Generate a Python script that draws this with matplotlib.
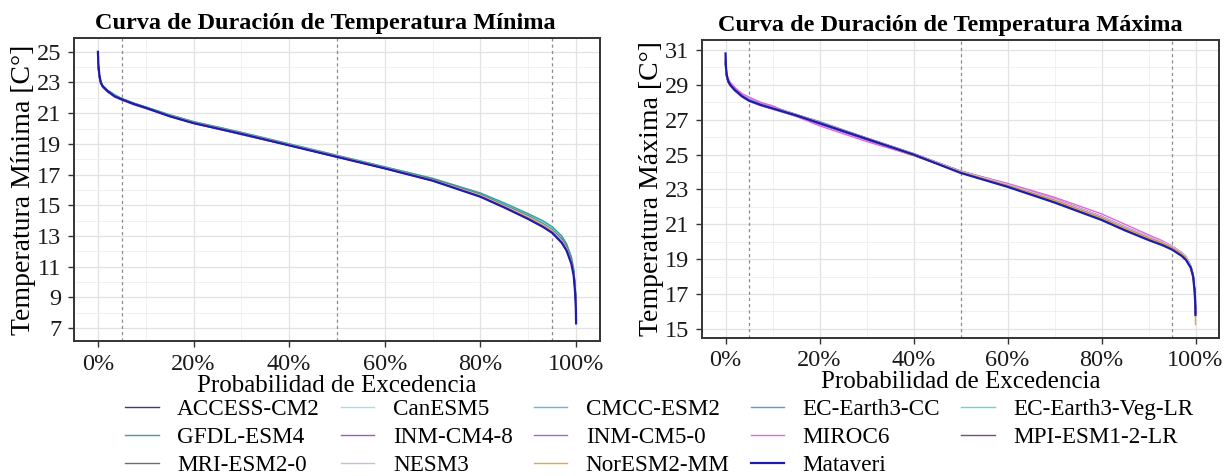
import matplotlib
matplotlib.use("Agg")
import matplotlib.pyplot as plt
from matplotlib.ticker import MultipleLocator, PercentFormatter

plt.rcParams["font.family"] = ["Liberation Serif", "DejaVu Serif"]

# Probabilidad de excedencia (%)
prob = [0, 0.1, 0.3, 0.6, 1, 2, 3.5, 5, 7.5, 10, 15, 20, 30, 40, 50, 60, 70, 80, 85, 90,
        93, 95, 97, 98, 99, 99.5, 99.8, 99.95, 100]

modelos = ["ACCESS-CM2", "CanESM5", "CMCC-ESM2", "EC-Earth3-CC", "EC-Earth3-Veg-LR",
           "GFDL-ESM4", "INM-CM4-8", "INM-CM5-0", "MIROC6", "MPI-ESM1-2-LR",
           "MRI-ESM2-0", "NESM3", "NorESM2-MM", "Mataveri"]

colores = ["#3b3b80", "#a8dde6", "#4fc1d9", "#5a9bd0", "#4fe0dc",
           "#3aa39b", "#9b59d6", "#a565e3", "#e565e0", "#8d3f86",
           "#707070", "#dbb3de", "#e6a93c", "#1c1cae"]

# Temperatura minima
tmin_access = [24.7, 24.0, 23.4, 23.0, 22.75, 22.45, 22.15, 21.95, 21.65, 21.4, 20.85, 20.4, 19.7, 18.95, 18.15, 17.45, 16.65, 15.65, 14.95, 14.25, 13.75, 13.35, 12.75, 12.25, 11.4, 10.6, 9.55, 8.6, 7.6]
tmin_canesm5 = [24.8, 24.1, 23.5, 23.05, 22.8, 22.5, 22.2, 21.95, 21.65, 21.4, 20.85, 20.45, 19.75, 19.0, 18.25, 17.5, 16.7, 15.7, 15.05, 14.35, 13.85, 13.45, 12.85, 12.35, 11.55, 10.75, 9.7, 8.8, 7.9]
tmin_cmcc = [24.6, 24.0, 23.4, 23.0, 22.75, 22.45, 22.15, 21.9, 21.6, 21.4, 20.85, 20.4, 19.7, 18.95, 18.2, 17.45, 16.65, 15.65, 15.0, 14.3, 13.8, 13.4, 12.8, 12.3, 11.45, 10.65, 9.6, 8.7, 7.7]
tmin_eccc = [24.5, 23.9, 23.4, 23.0, 22.7, 22.4, 22.1, 21.9, 21.6, 21.35, 20.8, 20.4, 19.7, 18.95, 18.2, 17.45, 16.7, 15.7, 15.0, 14.3, 13.8, 13.4, 12.75, 12.25, 11.4, 10.6, 9.55, 8.6, 7.6]
tmin_ecveg = [24.7, 24.1, 23.5, 23.05, 22.8, 22.5, 22.2, 21.95, 21.65, 21.4, 20.9, 20.45, 19.75, 19.0, 18.25, 17.5, 16.75, 15.75, 15.1, 14.4, 13.95, 13.55, 12.95, 12.45, 11.6, 10.8, 9.75, 8.8, 7.9]
tmin_gfdl = [24.7, 24.1, 23.5, 23.05, 22.8, 22.5, 22.2, 21.95, 21.65, 21.4, 20.9, 20.45, 19.75, 19.0, 18.25, 17.5, 16.75, 15.8, 15.15, 14.45, 14.0, 13.6, 13.0, 12.5, 11.65, 10.85, 9.8, 8.9, 8.0]
tmin_inm48 = [24.4, 23.9, 23.3, 22.95, 22.7, 22.4, 22.1, 21.9, 21.6, 21.35, 20.8, 20.35, 19.65, 18.9, 18.15, 17.4, 16.6, 15.6, 14.9, 14.2, 13.7, 13.3, 12.65, 12.15, 11.3, 10.5, 9.45, 8.5, 7.5]
tmin_inm50 = [24.5, 23.9, 23.4, 22.95, 22.7, 22.4, 22.05, 21.85, 21.55, 21.3, 20.8, 20.35, 19.6, 18.9, 18.15, 17.4, 16.6, 15.6, 14.9, 14.15, 13.65, 13.25, 12.6, 12.1, 11.25, 10.45, 9.4, 8.45, 7.5]
tmin_miroc6 = [24.6, 24.0, 23.4, 23.0, 22.75, 22.45, 22.1, 21.9, 21.6, 21.35, 20.8, 20.35, 19.65, 18.9, 18.15, 17.4, 16.6, 15.6, 14.9, 14.2, 13.7, 13.3, 12.65, 12.15, 11.3, 10.5, 9.45, 8.5, 7.5]
tmin_mpi = [24.7, 24.0, 23.45, 23.0, 22.75, 22.45, 22.1, 21.9, 21.6, 21.35, 20.85, 20.4, 19.7, 18.95, 18.2, 17.45, 16.65, 15.65, 14.95, 14.25, 13.75, 13.35, 12.75, 12.25, 11.4, 10.6, 9.55, 8.6, 7.6]
tmin_mri = [24.5, 23.9, 23.4, 23.0, 22.7, 22.4, 22.1, 21.9, 21.6, 21.35, 20.85, 20.4, 19.7, 18.95, 18.2, 17.45, 16.7, 15.7, 15.0, 14.3, 13.8, 13.4, 12.8, 12.3, 11.45, 10.65, 9.6, 8.7, 7.7]
tmin_nesm3 = [24.6, 24.0, 23.45, 23.0, 22.75, 22.45, 22.15, 21.9, 21.6, 21.35, 20.85, 20.4, 19.7, 18.95, 18.2, 17.45, 16.65, 15.65, 14.95, 14.25, 13.75, 13.35, 12.7, 12.2, 11.35, 10.55, 9.5, 8.6, 7.6]
tmin_noresm = [24.8, 24.1, 23.5, 23.0, 22.75, 22.45, 22.1, 21.9, 21.6, 21.35, 20.8, 20.35, 19.65, 18.9, 18.15, 17.4, 16.6, 15.6, 14.9, 14.2, 13.7, 13.3, 12.65, 12.15, 11.3, 10.5, 9.45, 8.5, 7.5]
tmin_mataveri = [25.0, 24.2, 23.5, 23.0, 22.75, 22.45, 22.1, 21.9, 21.6, 21.35, 20.8, 20.35, 19.65, 18.9, 18.15, 17.4, 16.6, 15.55, 14.85, 14.1, 13.6, 13.2, 12.55, 12.05, 11.2, 10.4, 9.3, 8.3, 7.3]

# Temperatura maxima
tmax_access = [30.3, 29.8, 29.45, 29.2, 29.0, 28.7, 28.4, 28.15, 27.9, 27.7, 27.3, 26.85, 25.95, 25.05, 24.05, 23.25, 22.4, 21.4, 20.8, 20.25, 19.95, 19.7, 19.35, 19.1, 18.6, 18.1, 17.3, 16.6, 15.9]
tmax_canesm5 = [30.4, 29.9, 29.5, 29.25, 29.05, 28.75, 28.4, 28.2, 27.95, 27.75, 27.3, 26.85, 25.95, 25.05, 24.05, 23.3, 22.45, 21.45, 20.85, 20.3, 20.0, 19.75, 19.4, 19.15, 18.6, 18.1, 17.3, 16.6, 15.9]
tmax_cmcc = [30.2, 29.8, 29.45, 29.2, 29.0, 28.7, 28.35, 28.15, 27.9, 27.7, 27.25, 26.8, 25.9, 25.0, 24.0, 23.25, 22.35, 21.35, 20.75, 20.2, 19.9, 19.65, 19.3, 19.05, 18.55, 18.05, 17.25, 16.55, 15.9]
tmax_eccc = [30.3, 29.8, 29.45, 29.25, 29.05, 28.75, 28.4, 28.2, 27.95, 27.75, 27.3, 26.9, 25.95, 25.05, 24.05, 23.3, 22.45, 21.45, 20.85, 20.3, 20.0, 19.75, 19.4, 19.15, 18.6, 18.1, 17.3, 16.6, 16.0]
tmax_ecveg = [30.4, 29.9, 29.5, 29.25, 29.05, 28.75, 28.4, 28.2, 27.95, 27.75, 27.3, 26.85, 25.95, 25.05, 24.05, 23.3, 22.4, 21.4, 20.8, 20.25, 19.95, 19.7, 19.35, 19.1, 18.6, 18.1, 17.35, 16.7, 16.0]
tmax_gfdl = [30.2, 29.7, 29.4, 29.15, 28.95, 28.65, 28.35, 28.1, 27.85, 27.65, 27.25, 26.8, 25.9, 25.0, 24.0, 23.2, 22.35, 21.35, 20.75, 20.2, 19.9, 19.65, 19.3, 19.05, 18.55, 18.05, 17.25, 16.55, 15.9]
tmax_inm48 = [30.3, 29.8, 29.45, 29.2, 29.0, 28.7, 28.35, 28.1, 27.85, 27.65, 27.2, 26.75, 25.85, 24.95, 24.0, 23.25, 22.4, 21.4, 20.8, 20.25, 19.95, 19.7, 19.35, 19.05, 18.55, 18.05, 17.3, 16.6, 15.9]
tmax_inm50 = [30.2, 29.7, 29.4, 29.15, 28.95, 28.65, 28.3, 28.05, 27.8, 27.6, 27.2, 26.75, 25.85, 24.95, 24.0, 23.2, 22.35, 21.4, 20.8, 20.25, 19.95, 19.7, 19.3, 19.05, 18.55, 18.05, 17.25, 16.55, 15.9]
tmax_miroc6 = [30.5, 30.0, 29.6, 29.35, 29.15, 28.85, 28.5, 28.3, 28.0, 27.8, 27.2, 26.65, 25.75, 24.95, 24.05, 23.35, 22.55, 21.6, 21.0, 20.4, 20.05, 19.75, 19.35, 19.05, 18.55, 18.05, 17.25, 16.5, 15.8]
tmax_mpi = [30.3, 29.8, 29.45, 29.2, 29.0, 28.7, 28.4, 28.15, 27.9, 27.7, 27.3, 26.85, 25.95, 25.05, 24.05, 23.3, 22.45, 21.45, 20.85, 20.25, 19.95, 19.7, 19.35, 19.1, 18.6, 18.1, 17.3, 16.6, 16.0]
tmax_mri = [30.2, 29.7, 29.4, 29.15, 28.95, 28.7, 28.35, 28.1, 27.85, 27.65, 27.25, 26.8, 25.9, 25.0, 24.05, 23.25, 22.4, 21.4, 20.8, 20.25, 19.95, 19.7, 19.35, 19.05, 18.55, 18.05, 17.3, 16.6, 15.9]
tmax_nesm3 = [30.3, 29.8, 29.45, 29.2, 29.0, 28.7, 28.4, 28.15, 27.9, 27.7, 27.3, 26.85, 25.95, 25.05, 24.05, 23.3, 22.45, 21.45, 20.85, 20.3, 20.0, 19.75, 19.4, 19.15, 18.6, 18.1, 17.3, 16.6, 16.0]
tmax_noresm = [30.4, 29.8, 29.45, 29.2, 29.0, 28.7, 28.35, 28.1, 27.85, 27.65, 27.25, 26.8, 25.9, 24.95, 24.0, 23.2, 22.35, 21.35, 20.75, 20.2, 19.9, 19.65, 19.3, 19.0, 18.45, 17.9, 17.0, 16.2, 15.25]
tmax_mataveri = [30.8, 30.0, 29.5, 29.2, 29.0, 28.7, 28.35, 28.1, 27.85, 27.65, 27.25, 26.8, 25.9, 25.0, 23.95, 23.15, 22.25, 21.25, 20.65, 20.1, 19.8, 19.55, 19.2, 18.95, 18.5, 18.0, 17.2, 16.5, 15.8]

series_tmin = [tmin_access, tmin_canesm5, tmin_cmcc, tmin_eccc, tmin_ecveg, tmin_gfdl, tmin_inm48,
               tmin_inm50, tmin_miroc6, tmin_mpi, tmin_mri, tmin_nesm3, tmin_noresm, tmin_mataveri]
series_tmax = [tmax_access, tmax_canesm5, tmax_cmcc, tmax_eccc, tmax_ecveg, tmax_gfdl, tmax_inm48,
               tmax_inm50, tmax_miroc6, tmax_mpi, tmax_mri, tmax_nesm3, tmax_noresm, tmax_mataveri]

x = [p / 100 for p in prob]

W, H = 1227, 476
fig = plt.figure(figsize=(W / 100, H / 100), dpi=100)

# posiciones de los paneles en pixeles (izq, sup, der, inf)
paneles = [(74, 38, 600, 341), (702, 40, 1219, 338)]


def dibujar_panel(ax, series, titulo, xt, ylabel, ylim, yticks):
    for nombre, col, y in zip(modelos, colores, series):
        es_obs = nombre == "Mataveri"
        ax.plot(x, y, color=col, lw=1.6 if es_obs else 1.0, label=nombre,
                zorder=3 if es_obs else 2)
    for v in (0.05, 0.5, 0.95):
        ax.axvline(v, color="#8a8a8a", lw=0.9, ls=(0, (2.5, 2.5)), zorder=1.5)
    ax.set_xlim(-0.05, 1.05)
    ax.set_ylim(*ylim)
    ax.set_yticks(yticks)
    ax.set_yticks([t + 1 for t in yticks[:-1]], minor=True)
    ax.xaxis.set_major_locator(MultipleLocator(0.2))
    ax.xaxis.set_minor_locator(MultipleLocator(0.1))
    ax.xaxis.set_major_formatter(PercentFormatter(1.0, decimals=0))
    ax.grid(which="major", color="#e2e2e2", lw=0.9, zorder=0)
    ax.grid(which="minor", color="#efefef", lw=0.6, zorder=0)
    ax.set_axisbelow(True)
    ax.tick_params(which="major", direction="out", length=4, width=1, color="#333333",
                   labelsize=17.5, labelcolor="#1a1a1a", pad=5)
    ax.tick_params(which="minor", length=0)
    for s in ax.spines.values():
        s.set_color("#333333")
        s.set_linewidth(1.4)
    ax.text(xt, 1.013, titulo, transform=ax.transAxes, ha="center", va="bottom",
            fontsize=17.5, fontweight="bold")
    ax.set_xlabel("Probabilidad de Excedencia", fontsize=18, labelpad=0)
    ax.set_ylabel(ylabel, fontsize=20, labelpad=1)


axes = []
for (l, t, r, b) in paneles:
    axes.append(fig.add_axes([l / W, 1 - b / H, (r - l) / W, (b - t) / H]))

dibujar_panel(axes[0], series_tmin, "Curva de Duración de Temperatura Mínima", 0.478,
              "Temperatura Mínima [C°]", (6.15, 25.9), list(range(7, 26, 2)))
dibujar_panel(axes[1], series_tmax, "Curva de Duración de Temperatura Máxima", 0.48,
              "Temperatura Máxima [C°]", (14.48, 31.57), list(range(15, 32, 2)))

# leyenda: orden por filas como en ggplot
handles, labels = axes[0].get_legend_handles_labels()
orden = [0, 5, 10, 1, 6, 11, 2, 7, 12, 3, 8, 13, 4, 9]
fig.legend([handles[i] for i in orden], [labels[i] for i in orden],
           loc="upper left", bbox_to_anchor=(125 / W, 1 - 399 / H), ncol=5,
           frameon=False, fontsize=16.7, handlelength=1.45, handletextpad=0.8,
           columnspacing=0.9, labelspacing=0.28, borderpad=0, borderaxespad=0)

fig.savefig("out.png", dpi=100)
